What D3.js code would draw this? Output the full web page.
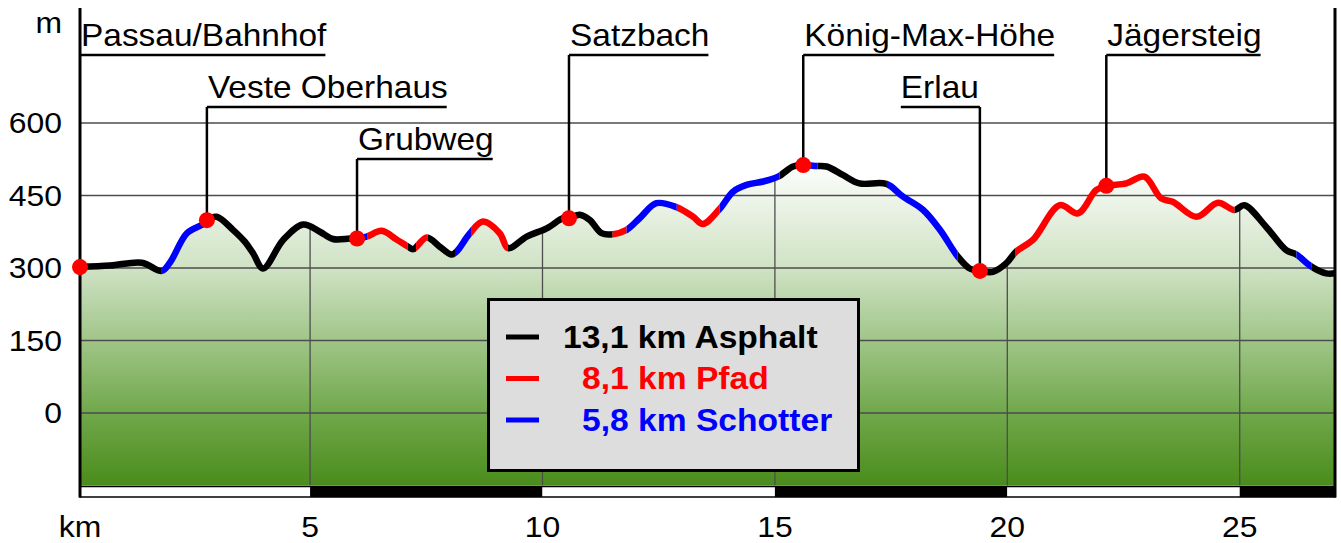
<!DOCTYPE html>
<html><head><meta charset="utf-8">
<script src="https://cdn.jsdelivr.net/npm/d3@7"></script>
<style>body{margin:0;background:#fff;} svg{display:block;font-family:"Liberation Sans",Arial,sans-serif;}</style>
</head><body><svg id="c" width="1341" height="543"></svg>
<script>
// ---- data ----
const profileKm = [0.05,0.70,1.38,1.81,1.99,2.35,2.70,2.78,2.99,3.34,3.60,3.77,3.99,4.42,4.85,5.21,5.49,5.86,6.01,6.22,6.54,6.86,7.11,7.22,7.51,7.79,8.04,8.15,8.44,8.72,9.08,9.26,9.66,10.09,10.44,10.57,10.80,11.02,11.27,11.52,11.81,12.09,12.45,12.88,13.24,13.45,13.81,14.10,14.39,14.75,15.07,15.39,15.61,15.86,16.11,16.47,16.82,17.40,17.75,18.19,18.55,18.94,19.19,19.41,19.69,19.98,20.19,20.55,21.13,21.52,21.91,22.13,22.56,22.95,23.31,23.56,24.07,24.53,24.89,25.10,25.57,26.00,26.22,26.54,26.86,27.05];
const profileElev = [302,305,311,294,312,372,391,399,406,379,354,331,299,358,390,375,360,361,361,365,377,359,344,339,363,344,328,334,372,396,372,341,365,382,403,403,410,399,372,370,379,403,434,426,406,391,422,458,472,479,489,510,513,511,510,492,475,474,448,420,379,323,299,294,292,310,334,358,430,413,461,470,475,489,444,437,406,435,420,430,385,337,328,303,289,289];
const surfaceEnds = [1.81,2.70,6.01,6.24,7.10,7.28,7.53,8.12,8.46,9.25,11.51,11.81,12.89,13.81,15.10,15.60,15.92,17.41,18.93,20.18,24.89,26.22,26.55,27.05];
const surfaceTypes = ["A","S","A","S","P","A","P","A","S","P","A","P","S","P","S","A","S","A","S","A","P","A","S","A"];
const legendTypes = ["A","P","S"];
const legendLabels = ["13,1 km Asphalt","8,1 km Pfad","5,8 km Schotter"];
const placeNames = ["Passau/Bahnhof","Veste Oberhaus","Grubweg","Satzbach","König-Max-Höhe","Erlau","Jägersteig"];
const placeKm = [0.05,2.78,6.01,10.57,15.61,19.41,22.13];
const placeElev = [302,399,361,403,513,294,470];
const placeRow = [0,1,2,0,0,1,0];
const placeSide = ["start","start","start","start","start","end","start"];
const elevTicks = [600,450,300,150,0];
const kmTicks = [5,10,15,20,25];
const kmBands = [0.05,5,10,15,20,25,27.05];

const colorOf = {A:"#000000", P:"#ff0000", S:"#0000ff"};

// ---- layout ----
const L = 80, R = 1335, T = 8, B = 485.5;
const x = d3.scaleLinear().domain([0.05, 27.05]).range([L, R]);
const y = d3.scaleLinear().domain([-150, 840]).range([B, B - 990*0.48333]);
const svg = d3.select("#c");
const defs = svg.append("defs");
const pts = profileKm.map((k,i)=>[k, profileElev[i]]);
const curve = d3.curveCatmullRom.alpha(0.5);

function stretch(sel, f){ sel.each(function(){ const w=this.getComputedTextLength(); d3.select(this).attr("textLength", w*f).attr("lengthAdjust","spacingAndGlyphs"); }); return sel; }

const grad = defs.append("linearGradient").attr("id","g").attr("gradientUnits","userSpaceOnUse")
  .attr("x1",0).attr("x2",0).attr("y1",158).attr("y2",B);
[[0,"#ffffff"],[0.34,"#cfe2c4"],[0.77,"#72a94d"],[1,"#4a8c1c"]].forEach(s=>
  grad.append("stop").attr("offset",s[0]).attr("stop-color",s[1]));

const area = d3.area().x(d=>x(d[0])).y0(B).y1(d=>y(d[1])).curve(curve);
const line = d3.line().x(d=>x(d[0])).y(d=>y(d[1])).curve(curve);

defs.append("clipPath").attr("id","ac").append("path").attr("d", area(pts));
svg.append("path").attr("d", area(pts)).attr("fill","url(#g)");

// horizontal grid
svg.append("g").selectAll("line").data(elevTicks).join("line")
  .attr("x1",L).attr("x2",R).attr("y1",d=>y(d)).attr("y2",d=>y(d))
  .attr("stroke","#4d4d4d").attr("stroke-width",1.3);
// vertical grid (under curve only)
svg.append("g").attr("clip-path","url(#ac)").selectAll("line").data(kmTicks).join("line")
  .attr("x1",d=>x(d)).attr("x2",d=>x(d)).attr("y1",T).attr("y2",B)
  .attr("stroke","#4d4d4d").attr("stroke-width",1.3);

// km scale bar
svg.append("g").selectAll("rect").data(d3.range(kmBands.length-1)).join("rect")
  .attr("x",i=>x(kmBands[i])).attr("width",i=>x(kmBands[i+1])-x(kmBands[i]))
  .attr("y",B+1).attr("height",10.5)
  .attr("fill",i=>i%2?"#000":"#fff");
svg.append("rect").attr("x",L).attr("y",B+1).attr("width",R-L).attr("height",10.5)
  .attr("fill","none").attr("stroke","#000").attr("stroke-width",1.5);

// axes lines
svg.append("line").attr("x1",L).attr("x2",L).attr("y1",T).attr("y2",B+12).attr("stroke","#000").attr("stroke-width",3);
svg.append("line").attr("x1",R).attr("x2",R).attr("y1",T).attr("y2",B+12).attr("stroke","#000").attr("stroke-width",3);

// profile segments
let start = 0.05;
surfaceEnds.forEach((e,i)=>{
  const id = "sc"+i;
  const x0 = i===0 ? L-10 : x(start), x1 = i===surfaceEnds.length-1 ? R+10 : x(e);
  defs.append("clipPath").attr("id",id).append("rect").attr("x",x0).attr("width",x1-x0).attr("y",0).attr("height",543);
  svg.append("path").attr("d",line(pts)).attr("clip-path",`url(#${id})`)
    .attr("fill","none").attr("stroke",colorOf[surfaceTypes[i]]).attr("stroke-width",6.5)
    .attr("stroke-linejoin","round");
  start = e;
});

// y tick labels
stretch(svg.append("g").selectAll("text").data(elevTicks).join("text")
  .attr("x",62).attr("y",d=>y(d)+10).attr("text-anchor","end")
  .attr("font-size",29).text(d=>d), 1.1);
stretch(svg.append("text").attr("x",62).attr("y",33).attr("text-anchor","end").attr("font-size",29).text("m"), 1.1);
// x tick labels
stretch(svg.append("g").selectAll("text").data(kmTicks).join("text")
  .attr("x",d=>x(d)).attr("y",537).attr("text-anchor","middle").attr("font-size",29).text(d=>d), 1.1);
stretch(svg.append("text").attr("x",L).attr("y",537).attr("text-anchor","middle").attr("font-size",29).text("km"), 1.1);

// place labels
const pg = svg.append("g");
placeNames.forEach((n,i)=>{
  const px = x(placeKm[i]), py = y(placeElev[i]);
  const uy = 55 + 52*placeRow[i];
  const t = pg.append("text").attr("y",uy-9).attr("font-size",32).text(n);
  const w = t.node().getComputedTextLength()*1.045;
  t.attr("textLength", w).attr("lengthAdjust","spacingAndGlyphs");
  let ux0, ux1;
  if (placeSide[i]==="start") { t.attr("x",px+1); ux0 = px; ux1 = px+w; }
  else { t.attr("x",px-w-1); ux0 = px-w-1; ux1 = px; }
  pg.append("line").attr("x1",ux0).attr("x2",ux1).attr("y1",uy).attr("y2",uy).attr("stroke","#000").attr("stroke-width",2.5);
  if (i>0) pg.append("line").attr("x1",px).attr("x2",px).attr("y1",uy).attr("y2",py).attr("stroke","#000").attr("stroke-width",2.5);
});
// markers
svg.append("g").selectAll("circle").data(placeKm).join("circle")
  .attr("cx",d=>x(d)).attr("cy",(d,i)=>y(placeElev[i])).attr("r",8).attr("fill","#ff0000");

// legend
const lg = svg.append("g");
lg.append("rect").attr("x",488.5).attr("y",299.5).attr("width",370).attr("height",171)
  .attr("fill","#dddddd").attr("stroke","#000").attr("stroke-width",3);
legendTypes.forEach((k,i)=>{
  const yy = 337 + 41.5*i;
  lg.append("line").attr("x1",506).attr("x2",539).attr("y1",yy).attr("y2",yy).attr("stroke",colorOf[k]).attr("stroke-width",5);
  stretch(lg.append("text").attr("x", i===0?563:582).attr("y",yy+10.5).attr("font-size",32).attr("font-weight","bold")
    .attr("fill",colorOf[k]).text(legendLabels[i]), 1.05);
});
</script></body></html>
